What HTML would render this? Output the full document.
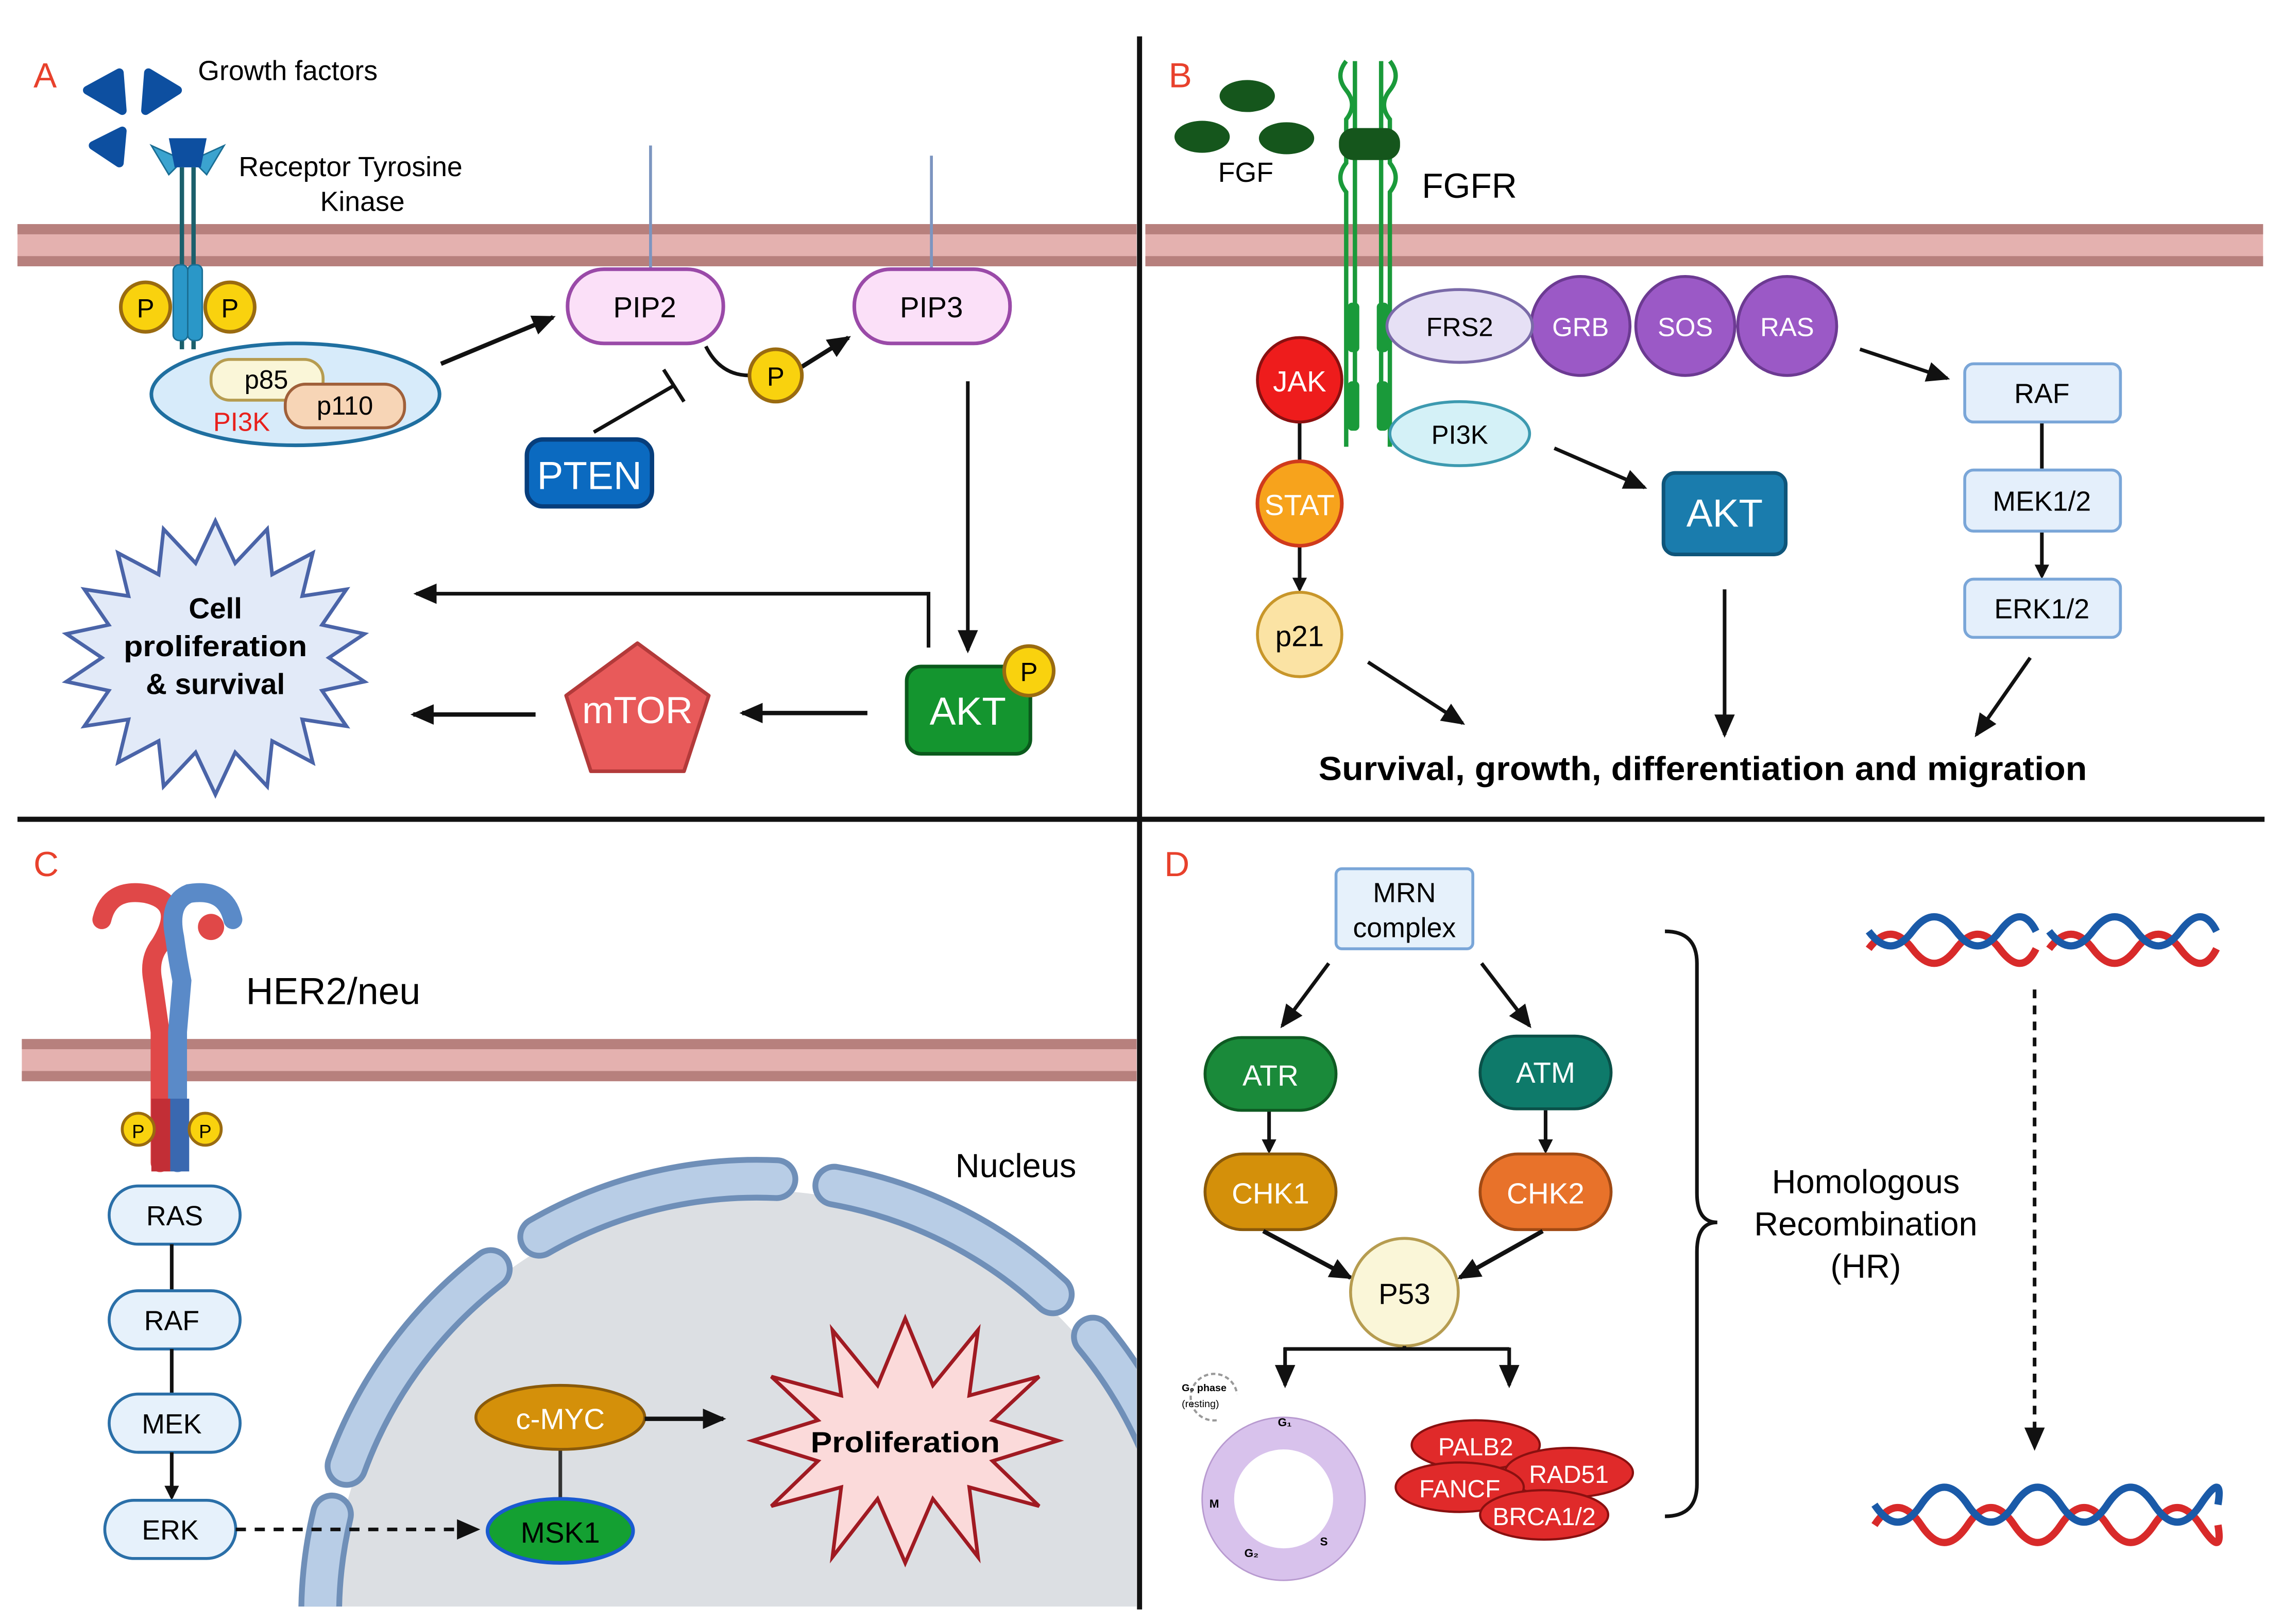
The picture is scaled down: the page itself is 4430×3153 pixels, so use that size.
<!DOCTYPE html>
<html><head><meta charset="utf-8"><style>
html,body{margin:0;padding:0;background:#fff;width:4430px;height:3153px;overflow:hidden;}
svg{display:block;font-family:"Liberation Sans",sans-serif;}
</style></head><body>
<svg width="4430" height="3153" viewBox="0 0 1568 1116" xmlns="http://www.w3.org/2000/svg">
<defs>
<marker id="ar" markerWidth="10" markerHeight="10" refX="8" refY="5" orient="auto" markerUnits="userSpaceOnUse"><path d="M0,0 L10,5 L0,10 z" fill="#111"/></marker>
<marker id="ar2" markerWidth="16" markerHeight="16" refX="14" refY="8" orient="auto" markerUnits="userSpaceOnUse"><path d="M0,1 L16,8 L0,15 z" fill="#111"/></marker>
<clipPath id="cc"><rect x="12" y="566" width="769" height="538"/></clipPath>
</defs>
<rect width="1568" height="1116" fill="#fff"/>
<g>
<rect x="12" y="154" width="769" height="29" fill="#e4b1af"/>
<rect x="12" y="154" width="769" height="7" fill="#b7807d"/>
<rect x="12" y="176" width="769" height="7" fill="#b7807d"/>
<rect x="787" y="154" width="768" height="29" fill="#e4b1af"/>
<rect x="787" y="154" width="768" height="7" fill="#b7807d"/>
<rect x="787" y="176" width="768" height="7" fill="#b7807d"/>
<rect x="15" y="714" width="766" height="29" fill="#e4b1af"/>
<rect x="15" y="714" width="766" height="7" fill="#b7807d"/>
<rect x="15" y="736" width="766" height="7" fill="#b7807d"/>
</g>
<line x1="783" y1="25" x2="783" y2="1106" stroke="#111" stroke-width="3.5"/>
<line x1="12" y1="563" x2="1556" y2="563" stroke="#111" stroke-width="3.5"/>

<!-- ===== Panel A ===== -->
<text x="23" y="60" font-size="24" fill="#e8412c">A</text>
<text x="136" y="55" font-size="19">Growth factors</text>
<text x="164" y="121" font-size="19">Receptor Tyrosine</text>
<text x="220" y="145" font-size="19">Kinase</text>
<g fill="#0d4fa0">
<path d="M60,62 L82,50 L84,76 Z" stroke="#0d4fa0" stroke-width="6" stroke-linejoin="round"/>
<path d="M122,62 L102,50 L100,76 Z" stroke="#0d4fa0" stroke-width="6" stroke-linejoin="round"/>
<path d="M64,100 L84,90 L82,112 Z" stroke="#0d4fa0" stroke-width="6" stroke-linejoin="round"/>
</g>
<path d="M104,100 L116,120 L126,110 Z" fill="#3ba3cf" stroke="#1a6e94"/>
<path d="M154,100 L142,120 L132,110 Z" fill="#3ba3cf" stroke="#1a6e94"/>
<path d="M116,95 h26 l-4,20 h-18 z" fill="#0d4fa0"/>
<line x1="125" y1="115" x2="125" y2="240" stroke="#1b5f6c" stroke-width="3"/>
<line x1="133" y1="115" x2="133" y2="240" stroke="#1b5f6c" stroke-width="3"/>
<rect x="119" y="182" width="10" height="52" rx="4" fill="#2a97c8" stroke="#1a6e94"/>
<rect x="129" y="182" width="10" height="52" rx="4" fill="#2a97c8" stroke="#1a6e94"/>
<circle cx="100" cy="211" r="17" fill="#f9d20e" stroke="#9a6b10" stroke-width="2.5"/>
<text x="100" y="218" font-size="18" text-anchor="middle">P</text>
<circle cx="158" cy="211" r="17" fill="#f9d20e" stroke="#9a6b10" stroke-width="2.5"/>
<text x="158" y="218" font-size="18" text-anchor="middle">P</text>
<ellipse cx="203" cy="271" rx="99" ry="35" fill="#d7ebfa" stroke="#1f6fa0" stroke-width="2.5"/>
<rect x="145" y="247" width="77" height="28" rx="13" fill="#faf6d8" stroke="#b69c50" stroke-width="2"/>
<text x="183" y="267" font-size="18" text-anchor="middle">p85</text>
<rect x="196" y="264" width="82" height="30" rx="14" fill="#f7d5b6" stroke="#a0603a" stroke-width="2"/>
<text x="237" y="285" font-size="18" text-anchor="middle">p110</text>
<text x="166" y="296" font-size="18" fill="#e8201c" text-anchor="middle">PI3K</text>
<line x1="447" y1="100" x2="447" y2="186" stroke="#7c95c0" stroke-width="2"/>
<line x1="640" y1="107" x2="640" y2="186" stroke="#7c95c0" stroke-width="2"/>
<rect x="390" y="185" width="107" height="51" rx="25" fill="#fbe0f8" stroke="#9a4aa8" stroke-width="2.5"/>
<text x="443" y="218" font-size="20" text-anchor="middle">PIP2</text>
<rect x="587" y="185" width="107" height="51" rx="25" fill="#fbe0f8" stroke="#9a4aa8" stroke-width="2.5"/>
<text x="640" y="218" font-size="20" text-anchor="middle">PIP3</text>
<line x1="303" y1="250" x2="380" y2="218" stroke="#111" stroke-width="3" marker-end="url(#ar2)"/>
<path d="M485,238 Q495,258 515,258" fill="none" stroke="#111" stroke-width="2.5"/>
<line x1="551" y1="252" x2="583" y2="232" stroke="#111" stroke-width="3" marker-end="url(#ar2)"/>
<circle cx="533" cy="258" r="18" fill="#f9d20e" stroke="#9a6b10" stroke-width="2.5"/>
<text x="533" y="265" font-size="18" text-anchor="middle">P</text>
<line x1="408" y1="297" x2="463" y2="265" stroke="#111" stroke-width="2.5"/>
<line x1="456" y1="254" x2="470" y2="276" stroke="#111" stroke-width="2.5"/>
<rect x="362" y="302" width="86" height="46" rx="11" fill="#0b6ac0" stroke="#073e7c" stroke-width="3"/>
<text x="405" y="336" font-size="27" fill="#fff" text-anchor="middle">PTEN</text>
<line x1="665" y1="262" x2="665" y2="447" stroke="#111" stroke-width="2.5" marker-end="url(#ar2)"/>
<rect x="623" y="458" width="85" height="60" rx="10" fill="#14952f" stroke="#0a5a1c" stroke-width="2.5"/>
<text x="665" y="498" font-size="27" fill="#fff" text-anchor="middle">AKT</text>
<circle cx="707" cy="461" r="17" fill="#f9d20e" stroke="#9a6b10" stroke-width="2.5"/>
<text x="707" y="468" font-size="18" text-anchor="middle">P</text>
<path d="M638,445 V408 H286" fill="none" stroke="#111" stroke-width="2.5" marker-end="url(#ar2)"/>
<line x1="596" y1="490" x2="510" y2="490" stroke="#111" stroke-width="3" marker-end="url(#ar2)"/>
<line x1="368" y1="491" x2="284" y2="491" stroke="#111" stroke-width="3" marker-end="url(#ar2)"/>
<path d="M438,442 L487,478 L470,530 L406,530 L389,478 Z" fill="#e85a5a" stroke="#b33a3a" stroke-width="2.5" stroke-linejoin="round"/>
<text x="438" y="497" font-size="26" fill="#fff" text-anchor="middle">mTOR</text>
<polygon fill="#e2eaf8" stroke="#4a64a8" stroke-width="2.5" points="148,358 161.6,387 183.6,363.6 187,394.8 214.9,380 207.7,409.6 238,405 221.3,429.4 250.4,435.6 226,452 250.4,468.4 221.3,474.6 238,499 207.7,494.4 214.9,524 187,509.2 183.6,540.4 161.6,517 148,546 134.4,517 112.4,540.4 109,509.2 81.1,524 88.3,494.4 58,499 74.7,474.6 45.6,468.4 70,452 45.6,435.6 74.7,429.4 58,405 88.3,409.6 81.1,380 109,394.8 112.4,363.6 134.4,387"/>
<text x="148" y="425" font-size="20" font-weight="bold" text-anchor="middle">Cell</text>
<text x="148" y="451" font-size="20" font-weight="bold" text-anchor="middle" textLength="126" lengthAdjust="spacingAndGlyphs">proliferation</text>
<text x="148" y="477" font-size="20" font-weight="bold" text-anchor="middle">&amp; survival</text>

<!-- ===== Panel B ===== -->
<text x="803" y="60" font-size="24" fill="#e8412c">B</text>
<ellipse cx="857" cy="66" rx="19" ry="11" fill="#15561c"/>
<ellipse cx="826" cy="94" rx="19" ry="11" fill="#15561c"/>
<ellipse cx="884" cy="95" rx="19" ry="11" fill="#15561c"/>
<text x="856" y="125" font-size="19" text-anchor="middle">FGF</text>
<text x="977" y="136" font-size="24">FGFR</text>
<g fill="none" stroke="#1a9a3a" stroke-width="3">
<path d="M925,42 q-8,10 0,20 q8,10 0,20 v30 q-8,10 0,20 v175"/>
<path d="M955,42 q8,10 0,20 q-8,10 0,20 v30 q8,10 0,20 v175"/>
<path d="M931,42 v250"/><path d="M949,42 v250"/>
</g>
<rect x="920" y="88" width="42" height="22" rx="10" fill="#15561c"/>
<rect x="926" y="208" width="8" height="34" rx="3" fill="#1a9a3a"/>
<rect x="946" y="208" width="8" height="34" rx="3" fill="#1a9a3a"/>
<rect x="926" y="262" width="8" height="34" rx="3" fill="#1a9a3a"/>
<rect x="946" y="262" width="8" height="34" rx="3" fill="#1a9a3a"/>
<circle cx="1228" cy="224" r="34" fill="#9b59c6" stroke="#6c3a92" stroke-width="2"/>
<circle cx="1158" cy="224" r="34" fill="#9b59c6" stroke="#6c3a92" stroke-width="2"/>
<circle cx="1086" cy="224" r="34" fill="#9b59c6" stroke="#6c3a92" stroke-width="2"/>
<ellipse cx="1003" cy="224" rx="50" ry="25" fill="#e6e0f5" stroke="#7a6aa8" stroke-width="2"/>
<text x="1003" y="231" font-size="18" text-anchor="middle">FRS2</text>
<text x="1086" y="231" font-size="18" fill="#fff" text-anchor="middle">GRB</text>
<text x="1158" y="231" font-size="18" fill="#fff" text-anchor="middle">SOS</text>
<text x="1228" y="231" font-size="18" fill="#fff" text-anchor="middle">RAS</text>
<ellipse cx="1003" cy="298" rx="48" ry="22" fill="#d4f1f7" stroke="#3d9ab0" stroke-width="2"/>
<text x="1003" y="305" font-size="18" text-anchor="middle">PI3K</text>
<line x1="893" y1="290" x2="893" y2="318" stroke="#111" stroke-width="2.5"/>
<line x1="893" y1="375" x2="893" y2="405" stroke="#111" stroke-width="2.5" marker-end="url(#ar)"/>
<circle cx="893" cy="261" r="29" fill="#ee1c1c" stroke="#8a1010" stroke-width="2"/>
<text x="893" y="269" font-size="20" fill="#fff" text-anchor="middle">JAK</text>
<circle cx="893" cy="346" r="29" fill="#f7a31c" stroke="#d03a1c" stroke-width="2.5"/>
<text x="893" y="354" font-size="20" fill="#fff" text-anchor="middle">STAT</text>
<circle cx="893" cy="436" r="29" fill="#fbe3a4" stroke="#c8962a" stroke-width="2"/>
<text x="893" y="444" font-size="20" text-anchor="middle">p21</text>
<line x1="1068" y1="308" x2="1130" y2="335" stroke="#111" stroke-width="2.5" marker-end="url(#ar2)"/>
<rect x="1143" y="325" width="84" height="56" rx="8" fill="#1a7cad" stroke="#0e557a" stroke-width="2.5"/>
<text x="1185" y="362" font-size="27" fill="#fff" text-anchor="middle">AKT</text>
<line x1="1278" y1="240" x2="1338" y2="260" stroke="#111" stroke-width="2.5" marker-end="url(#ar2)"/>
<rect x="1350" y="250" width="107" height="40" rx="6" fill="#e4effb" stroke="#7aa6d8" stroke-width="2"/>
<text x="1403" y="277" font-size="19" text-anchor="middle">RAF</text>
<line x1="1403" y1="291" x2="1403" y2="322" stroke="#111" stroke-width="2.5"/>
<rect x="1350" y="323" width="107" height="42" rx="6" fill="#e4effb" stroke="#7aa6d8" stroke-width="2"/>
<text x="1403" y="351" font-size="19" text-anchor="middle">MEK1/2</text>
<line x1="1403" y1="366" x2="1403" y2="396" stroke="#111" stroke-width="2.5" marker-end="url(#ar)"/>
<rect x="1350" y="398" width="107" height="40" rx="6" fill="#e4effb" stroke="#7aa6d8" stroke-width="2"/>
<text x="1403" y="425" font-size="19" text-anchor="middle">ERK1/2</text>
<line x1="940" y1="455" x2="1005" y2="497" stroke="#111" stroke-width="2.5" marker-end="url(#ar2)"/>
<line x1="1185" y1="405" x2="1185" y2="505" stroke="#111" stroke-width="2.5" marker-end="url(#ar2)"/>
<line x1="1395" y1="452" x2="1358" y2="505" stroke="#111" stroke-width="2.5" marker-end="url(#ar2)"/>
<text x="1170" y="536" font-size="23" font-weight="bold" text-anchor="middle" textLength="528" lengthAdjust="spacingAndGlyphs">Survival, growth, differentiation and migration</text>

<!-- ===== Panel C ===== -->
<text x="23" y="602" font-size="24" fill="#e8412c">C</text>
<path d="M70,632 q5,-22 30,-18 q28,6 10,35 q-8,10 -5,25 l5,35 v90" fill="none" stroke="#e04848" stroke-width="13" stroke-linecap="round"/>
<path d="M160,632 q-5,-22 -30,-18 q-15,6 -10,30 q2,15 5,30 l-3,35 v90" fill="none" stroke="#5a8ac8" stroke-width="13" stroke-linecap="round"/>
<circle cx="145" cy="637" r="9" fill="#e04848"/>
<rect x="104" y="755" width="13" height="50" fill="#c22e36"/>
<rect x="117" y="755" width="13" height="50" fill="#3a68b0"/>
<circle cx="95" cy="776" r="11" fill="#f9d20e" stroke="#9a6b10" stroke-width="2"/>
<text x="95" y="782" font-size="13" text-anchor="middle">P</text>
<circle cx="141" cy="776" r="11" fill="#f9d20e" stroke="#9a6b10" stroke-width="2"/>
<text x="141" y="782" font-size="13" text-anchor="middle">P</text>
<text x="169" y="690" font-size="26">HER2/neu</text>
<rect x="75" y="815" width="90" height="40" rx="20" fill="#e6f1fb" stroke="#2a6fa8" stroke-width="2"/>
<text x="120" y="842" font-size="19" text-anchor="middle">RAS</text>
<line x1="118" y1="855" x2="118" y2="887" stroke="#111" stroke-width="2.5"/>
<rect x="75" y="887" width="90" height="40" rx="20" fill="#e6f1fb" stroke="#2a6fa8" stroke-width="2"/>
<text x="118" y="914" font-size="19" text-anchor="middle">RAF</text>
<line x1="118" y1="927" x2="118" y2="958" stroke="#111" stroke-width="2.5"/>
<rect x="75" y="958" width="90" height="40" rx="20" fill="#e6f1fb" stroke="#2a6fa8" stroke-width="2"/>
<text x="118" y="985" font-size="19" text-anchor="middle">MEK</text>
<line x1="118" y1="998" x2="118" y2="1029" stroke="#111" stroke-width="2.5" marker-end="url(#ar)"/>
<rect x="72" y="1031" width="90" height="40" rx="20" fill="#e6f1fb" stroke="#2a6fa8" stroke-width="2"/>
<text x="117" y="1058" font-size="19" text-anchor="middle">ERK</text>
<text x="698" y="809" font-size="23" text-anchor="middle">Nucleus</text>
<g clip-path="url(#cc)">
<circle cx="520" cy="1110" r="292" fill="#dcdfe3"/>
<circle cx="520" cy="1110" r="300" fill="none" stroke="#6f8fb8" stroke-width="30" stroke-linecap="round" stroke-dasharray="170 40" transform="rotate(-160 520 1110)"/>
<circle cx="520" cy="1110" r="300" fill="none" stroke="#b8cde6" stroke-width="22" stroke-linecap="round" stroke-dasharray="170 40" transform="rotate(-160 520 1110)"/>
</g>
<line x1="162" y1="1051" x2="328" y2="1051" stroke="#111" stroke-width="2.5" stroke-dasharray="7 6" marker-end="url(#ar2)"/>
<line x1="385" y1="995" x2="385" y2="1032" stroke="#333" stroke-width="2.5"/>
<ellipse cx="385" cy="974" rx="58" ry="22" fill="#d4900a" stroke="#8a5a0a" stroke-width="2"/>
<text x="385" y="982" font-size="20" fill="#fff" text-anchor="middle">c-MYC</text>
<ellipse cx="385" cy="1052" rx="50" ry="22" fill="#14a032" stroke="#1a5ad0" stroke-width="2.5"/>
<text x="385" y="1060" font-size="20" text-anchor="middle">MSK1</text>
<line x1="443" y1="975" x2="497" y2="975" stroke="#111" stroke-width="3" marker-end="url(#ar2)"/>
<polygon fill="#fbdada" stroke="#a01a22" stroke-width="2.5" points="
622,906 641,952 672,914 666,959 714,946 682,976 727,990 682,1004 714,1035 666,1022 672,1070 641,1030 622,1074 603,1030 572,1070 578,1022 530,1035 562,1004 517,990 562,976 530,946 578,959 572,914 603,952"/>
<text x="622" y="998" font-size="20" font-weight="bold" text-anchor="middle" textLength="130" lengthAdjust="spacingAndGlyphs">Proliferation</text>

<!-- ===== Panel D ===== -->
<text x="800" y="602" font-size="24" fill="#e8412c">D</text>
<rect x="918" y="597" width="94" height="55" rx="4" fill="#e6f1fb" stroke="#7aa6d8" stroke-width="2"/>
<text x="965" y="620" font-size="19" text-anchor="middle">MRN</text>
<text x="965" y="644" font-size="19" text-anchor="middle">complex</text>
<line x1="913" y1="662" x2="881" y2="705" stroke="#111" stroke-width="2.5" marker-end="url(#ar2)"/>
<line x1="1018" y1="662" x2="1051" y2="705" stroke="#111" stroke-width="2.5" marker-end="url(#ar2)"/>
<rect x="828" y="713" width="90" height="50" rx="25" fill="#1a8a3a" stroke="#0e5a22" stroke-width="2"/>
<text x="873" y="746" font-size="20" fill="#fff" text-anchor="middle">ATR</text>
<rect x="1017" y="712" width="90" height="50" rx="25" fill="#0e7a6a" stroke="#0a5048" stroke-width="2"/>
<text x="1062" y="744" font-size="20" fill="#fff" text-anchor="middle">ATM</text>
<line x1="872" y1="764" x2="872" y2="791" stroke="#111" stroke-width="2.5" marker-end="url(#ar)"/>
<line x1="1062" y1="763" x2="1062" y2="791" stroke="#111" stroke-width="2.5" marker-end="url(#ar)"/>
<rect x="828" y="793" width="90" height="52" rx="26" fill="#d4900a" stroke="#8a5a0a" stroke-width="2"/>
<text x="873" y="827" font-size="20" fill="#fff" text-anchor="middle">CHK1</text>
<rect x="1017" y="793" width="90" height="52" rx="26" fill="#e8722a" stroke="#a04a14" stroke-width="2"/>
<text x="1062" y="827" font-size="20" fill="#fff" text-anchor="middle">CHK2</text>
<line x1="868" y1="846" x2="928" y2="878" stroke="#111" stroke-width="3" marker-end="url(#ar2)"/>
<line x1="1060" y1="846" x2="1003" y2="878" stroke="#111" stroke-width="3" marker-end="url(#ar2)"/>
<circle cx="965" cy="888" r="37" fill="#faf6d8" stroke="#b69c50" stroke-width="2"/>
<text x="965" y="896" font-size="20" text-anchor="middle">P53</text>
<line x1="882" y1="927" x2="1037" y2="927" stroke="#111" stroke-width="2.5"/>
<line x1="965" y1="925" x2="965" y2="928" stroke="#111" stroke-width="2.5"/>
<line x1="883" y1="926" x2="883" y2="952" stroke="#111" stroke-width="2.5" marker-end="url(#ar2)"/>
<line x1="1037" y1="926" x2="1037" y2="952" stroke="#111" stroke-width="2.5" marker-end="url(#ar2)"/>
<circle cx="882" cy="1030" r="45" fill="none" stroke="#d8c2ec" stroke-width="22"/>
<circle cx="882" cy="1030" r="56" fill="none" stroke="#b89ad0" stroke-width="1"/>
<path d="M836,976 a16,16 0 1 1 14,-18" fill="none" stroke="#999" stroke-width="1.5" stroke-dasharray="3 2"/>
<text x="812" y="956" font-size="7" font-weight="bold">G₀ phase</text>
<text x="812" y="967" font-size="7">(resting)</text>
<text x="878" y="980" font-size="8" font-weight="bold">G₁</text>
<text x="831" y="1036" font-size="8" font-weight="bold">M</text>
<text x="907" y="1062" font-size="8" font-weight="bold">S</text>
<text x="855" y="1070" font-size="8" font-weight="bold">G₂</text>
<ellipse cx="1014" cy="993" rx="44" ry="17" fill="#e02a2a" stroke="#8a1010" stroke-width="1.5"/>
<text x="1014" y="1000" font-size="17" fill="#fff" text-anchor="middle">PALB2</text>
<ellipse cx="1078" cy="1012" rx="44" ry="17" fill="#e02a2a" stroke="#8a1010" stroke-width="1.5"/>
<text x="1078" y="1019" font-size="17" fill="#fff" text-anchor="middle">RAD51</text>
<ellipse cx="1003" cy="1022" rx="44" ry="17" fill="#e02a2a" stroke="#8a1010" stroke-width="1.5"/>
<text x="1003" y="1029" font-size="17" fill="#fff" text-anchor="middle">FANCF</text>
<ellipse cx="1061" cy="1041" rx="44" ry="17" fill="#e02a2a" stroke="#8a1010" stroke-width="1.5"/>
<text x="1061" y="1048" font-size="17" fill="#fff" text-anchor="middle">BRCA1/2</text>
<path d="M1144,640 q22,0 22,22 v158 q0,20 14,20 q-14,0 -14,20 v160 q0,22 -22,22" fill="none" stroke="#111" stroke-width="2.5"/>
<text x="1282" y="820" font-size="23" text-anchor="middle">Homologous</text>
<text x="1282" y="849" font-size="23" text-anchor="middle">Recombination</text>
<text x="1282" y="878" font-size="23" text-anchor="middle">(HR)</text>
<g fill="none" stroke-width="5">
<path d="M1284,652 q15,-20 30,0 t30,0 t30,0 t25,0" stroke="#d82a2a"/>
<path d="M1284,640 q15,20 30,0 t30,0 t30,0 t25,0" stroke="#1a5aa8"/>
<path d="M1408,652 q15,-20 30,0 t30,0 t30,0 t25,0" stroke="#d82a2a"/>
<path d="M1408,640 q15,20 30,0 t30,0 t30,0 t25,0" stroke="#1a5aa8"/>
<path d="M1288,1048 q16,-24 32,0 t32,0 t32,0 t32,0 t32,0 t32,0 t32,0 t12,0" stroke="#d82a2a"/>
<path d="M1288,1034 q16,24 32,0 t32,0 t32,0 t32,0 t32,0 t32,0 t32,0 t12,0" stroke="#1a5aa8"/>
</g>
<line x1="1398" y1="680" x2="1398" y2="995" stroke="#111" stroke-width="2.5" stroke-dasharray="6 5" marker-end="url(#ar2)"/>
</svg>
</body></html>
